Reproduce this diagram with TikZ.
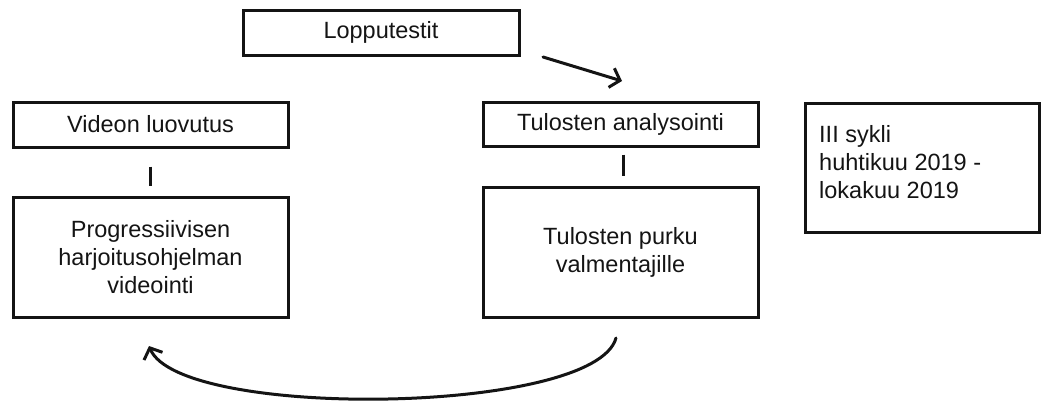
\documentclass[tikz,border=0pt]{standalone}
\usepackage{fontspec}
\setmainfont{Liberation Sans}
\usetikzlibrary{arrows.meta}
\definecolor{ink}{HTML}{141414}
\tikzset{
  box/.style={draw=ink, line width=3pt, rectangle, inner sep=0pt,
    align=center, text=ink, font=\fontsize{23.5}{28}\selectfont},
  link/.style={draw=ink, line width=3pt},
  flow/.style={draw=ink, line width=3pt, line cap=round,
    -{Straight Barb[length=9pt,width=20pt,line width=3pt]}}
}
\begin{document}
\begin{tikzpicture}[x=1pt,y=-1pt]
\useasboundingbox (0,0) rectangle (1042,405);

% boxes
\node[box, minimum width=276pt, minimum height=45pt] (loppu) at (381,32.5) {Lopputestit};
\node[box, minimum width=275pt, minimum height=45pt] (luovutus) at (150.5,124.5) {Videon luovutus};
\node[box, minimum width=275pt, minimum height=120pt] (video) at (150.5,257)
  {Progressiivisen\\harjoitusohjelman\\videointi};
\node[box, minimum width=275pt, minimum height=44pt] (analyysi) at (620.5,124) {Tulosten analysointi};
\node[box, minimum width=275pt, minimum height=130pt] (purku) at (620.5,252)
  {Tulosten purku\\valmentajille};
\node[box, minimum width=234pt, minimum height=129pt] (sykli) at (922,167.5) {};
\node[anchor=north west, align=left, inner sep=0pt, text=ink,
  font=\fontsize{23.5}{28}\selectfont] (syklitxt) at (819,125)
  {III sykli\\huhtikuu 2019 -\\lokakuu 2019};

% short links between stacked boxes
\draw[link, shorten <=18pt, shorten >=10pt] (luovutus.south) -- (video.north);
\draw[link, shorten <=7pt, shorten >=10pt] ([xshift=2.5pt]analyysi.south) -- ([xshift=2.5pt]purku.north);

% arrow from the final tests towards the analysis
\coordinate (a1) at (543,57);
\coordinate (a2) at (622,81);
\draw[flow] (a1) -- (a2);

% return arrow below the lower boxes
\coordinate (b1) at (616,338);
\coordinate (b2) at (149,346);
\draw[flow] (b1) .. controls (595,415) and (180,420) .. (b2);
\end{tikzpicture}
\end{document}
